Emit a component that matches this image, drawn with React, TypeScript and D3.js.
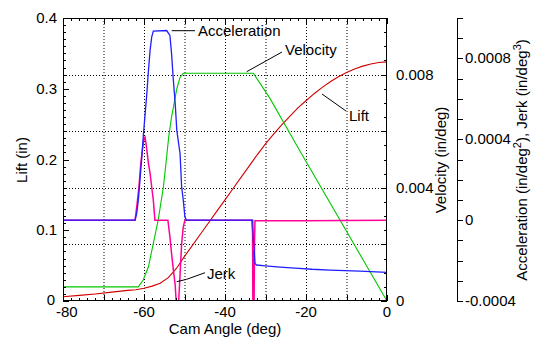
import React from "react";
import * as d3 from "d3";

// ---- data ----
const liftDeg = [-80, -76, -72, -68, -64, -62, -60, -58, -56, -54, -52, -50, -48, -46, -44, -42, -40, -38, -36, -34, -32, -30, -28, -26, -24, -22, -20, -18, -16, -14, -12, -10, -8, -6, -4, -2, 0];
const liftVal = [0.006, 0.008, 0.010, 0.0125, 0.015, 0.016, 0.018, 0.021, 0.025, 0.033, 0.046, 0.063, 0.079, 0.095, 0.111, 0.127, 0.143, 0.159, 0.175, 0.191, 0.207, 0.222, 0.236, 0.249, 0.261, 0.273, 0.283, 0.293, 0.302, 0.310, 0.317, 0.323, 0.328, 0.332, 0.335, 0.337, 0.338];

const velDeg = [-80, -61.4, -60.2, -58.9, -57.7, -56.5, -55.2, -54.4, -53.9, -53.2, -52.8, -51.9, -51.1, -50.3, -33, -28.9, -21.5, 0];
const velVal = [0.0005, 0.0005, 0.00074, 0.00121, 0.00204, 0.00286, 0.00404, 0.0051, 0.0058, 0.0065, 0.0068, 0.0075, 0.0079, 0.00805, 0.00805, 0.00716, 0.0053, 0];

const accDeg = [-80, -62.2, -61.8, -61.4, -61.0, -60.6, -60.2, -59.3, -58.9, -58.5, -58.1, -57.7, -54.4, -53.6, -53.2, -52.8, -52.3, -51.9, -51.1, -50.7, -50.3, -49.9, -49.5, -33.16, -33.0, -32.8, -32.6, -32.2, -30.1, -26.4, -22.7, -18.5, -14.1, -6.7, 0];
const accVal = [0, 0, 0.000033, 0.0000988, 0.000198, 0.000296, 0.00041, 0.000626, 0.00074, 0.00084, 0.000905, 0.000935, 0.000938, 0.000914, 0.000825, 0.000706, 0.000578, 0.000444, 0.00033, 0.000163, 0.0000988, 0.000015, 0, 0, -0.0000988, -0.000148, -0.000214, -0.000222, -0.000226, -0.000232, -0.000237, -0.000243, -0.000247, -0.000252, -0.000258];

const jerkDeg = [-80, -62.2, -61.7, -61.25, -60.8, -60.4, -60.0, -59.75, -59.5, -59.2, -58.9, -58.5, -58.1, -57.7, -57.3, -54.1, -53.6, -53.2, -52.8, -52.3, -52.0, -51.5, -51.2, -51.0, -50.7, -50.3, -49.9, -33.4, -33.2, -33.1, -32.95, -32.85, -32.7, -32.6, -20.7, 0];
const jerkVal = [0, 0, 0.000082, 0.000164, 0.00028, 0.000346, 0.000405, 0.000411, 0.00038, 0.00033, 0.00028, 0.000232, 0.000164, 0.0000988, 0, 0, -0.0000825, -0.000164, -0.000237, -0.00032, -0.00042, -0.00042, -0.000311, -0.00023, -0.000115, -0.000033, 0, 0, -0.00006, -0.0005, -0.00015, -0.0005, -0.0001, -0.000003, -0.000003, 0];

const xTickLabels = [-80, -60, -40, -20, 0];
const liftTickLabels = [0, 0.1, 0.2, 0.3, 0.4];
const velTickLabels = [0, 0.004, 0.008];
const accTickLabels = [-0.0004, 0, 0.0004, 0.0008];
const velGrid = [0.002, 0.004, 0.006, 0.008];
const xGrid = [-70, -60, -50, -40, -30, -20, -10];

const annotations = [
  { text: "Acceleration", line: [[171.7, 30.7], [195, 30.7]], tx: 198, ty: 36 },
  { text: "Velocity", line: [[246.7, 71.7], [282, 52]], tx: 285, ty: 55 },
  { text: "Lift", line: [[322, 94], [346, 111]], tx: 349, ty: 121 },
  { text: "Jerk", line: [[176.7, 281.7], [186.7, 279.3], [205, 272.7]], tx: 207, ty: 279 },
];

const FONT = "'Liberation Sans', Arial, sans-serif";

export default function App() {
  const L = 63, R = 387, T = 18, B = 301;
  const x = d3.scaleLinear().domain([-80, 0]).range([L, R]);
  const yLift = d3.scaleLinear().domain([0, 0.4]).range([B, T]);
  const yVel = d3.scaleLinear().domain([0, 0.01]).range([B, T]);
  const yAcc = d3.scaleLinear().domain([-0.0004, 0.001]).range([B, T]);
  const AX = 457;

  const mk = (xs: number[], ys: number[], ys2: (v: number) => number) =>
    d3.line<number>().x((_, i) => x(xs[i])).y((v) => ys2(v))(ys) || "";

  const xTicks = d3.range(-80, 0.001, 2);
  const liftTicks = d3.range(0, 0.4001, 0.01);
  const velTicks = d3.range(0, 0.01001, 0.0005);
  const accTicks = d3.range(-0.0004, 0.00100001, 0.0001);

  const fmtAcc = (v: number) => (Math.abs(v) < 1e-12 ? "0" : v.toFixed(4));

  return (
    <svg width={539} height={340} style={{ position: "absolute", left: 0, top: 0, background: "#fff" }} fontFamily={FONT}>
      <defs>
        <clipPath id="plot">
          <rect x={L} y={T} width={R - L} height={B - T} />
        </clipPath>
      </defs>
      {/* grid */}
      {xGrid.map((d) => (
        <line key={"gx" + d} x1={x(d) + 0.5} x2={x(d) + 0.5} y1={T} y2={B} stroke="#000" strokeDasharray="1,2" />
      ))}
      {velGrid.map((d) => (
        <line key={"gy" + d} x1={L} x2={R} y1={Math.round(yVel(d)) + 0.5} y2={Math.round(yVel(d)) + 0.5} stroke="#000" strokeDasharray="1,2" />
      ))}
      {/* curves */}
      <g clipPath="url(#plot)" fill="none">
        <path d={mk(liftDeg, liftVal, yLift)} stroke="#d00000" strokeWidth={1.1} />
        <path d={mk(velDeg, velVal, yVel)} stroke="#00c800" strokeWidth={1.1} />
        <path d={mk(jerkDeg, jerkVal, yAcc)} stroke="#ff0099" strokeWidth={1.5} />
        <path d={mk(accDeg, accVal, yAcc)} stroke="#1f1fff" strokeWidth={1.3} />
      </g>
      {/* frame */}
      <rect x={L + 0.5} y={T + 0.5} width={R - L - 1} height={B - T - 1} fill="none" stroke="#000" />
      {/* x ticks bottom & top */}
      {xTicks.map((d) => {
        const major = Math.abs(d % 10) < 1e-6;
        const xx = Math.round(x(d)) + 0.5;
        return (
          <g key={"xt" + d}>
            <line x1={xx} x2={xx} y1={B} y2={B - (major ? 6 : 3)} stroke="#000" />
            <line x1={xx} x2={xx} y1={T} y2={T + (major ? 6 : 3)} stroke="#000" />
          </g>
        );
      })}
      {/* lift ticks */}
      {liftTicks.map((d, i) => {
        const major = i % 10 === 0;
        const yy = Math.round(yLift(d)) + 0.5;
        return <line key={"lt" + i} x1={L} x2={L + (major ? 6 : 3)} y1={yy} y2={yy} stroke="#000" />;
      })}
      {/* velocity ticks on right border */}
      {velTicks.map((d, i) => {
        const major = i % 4 === 0;
        const yy = Math.round(yVel(d)) + 0.5;
        return <line key={"vt" + i} x1={R} x2={R - (major ? 6 : 3)} y1={yy} y2={yy} stroke="#000" />;
      })}
      {/* acceleration axis */}
      <line x1={AX + 0.5} x2={AX + 0.5} y1={T} y2={B + 1} stroke="#000" />
      {accTicks.map((d, i) => {
        const yy = Math.round(yAcc(d)) + 0.5;
        return <line key={"at" + i} x1={AX} x2={AX + 6} y1={yy} y2={yy} stroke="#000" />;
      })}
      {/* tick labels */}
      <g fontSize={15} fill="#000">
        {xTickLabels.map((d) =>
          d === -80 ? (
            <text key={"xl" + d} x={56} y={317} textAnchor="start">{d}</text>
          ) : (
            <text key={"xl" + d} x={x(d)} y={317} textAnchor="middle">{d}</text>
          )
        )}
        {liftTickLabels.map((d) => (
          <text key={"ll" + d} x={d === 0 ? 55 : 57} y={yLift(d) + (d === 0 ? 4 : 5)} textAnchor="end">{d}</text>
        ))}
        {velTickLabels.map((d) => (
          <text key={"vl" + d} x={396} y={yVel(d) + 5} textAnchor="start">{d}</text>
        ))}
        {accTickLabels.map((d) => (
          <text key={"al" + d} x={465} y={yAcc(d) + 5} textAnchor="start">{fmtAcc(d)}</text>
        ))}
        <text x={225} y={334} textAnchor="middle">Cam Angle (deg)</text>
        <text transform="translate(27,160) rotate(-90)" textAnchor="middle">Lift (in)</text>
        <text transform="translate(446,160) rotate(-90)" textAnchor="middle">Velocity (in/deg)</text>
        <text transform="translate(527,160) rotate(-90)" textAnchor="middle">
          Acceleration (in/deg<tspan dy={-6} fontSize={11}>2</tspan><tspan dy={6}>), Jerk (in/deg</tspan><tspan dy={-6} fontSize={11}>3</tspan><tspan dy={6}>)</tspan>
        </text>
      </g>
      {/* annotations */}
      <g fontSize={15}>
        {annotations.map((a) => (
          <g key={a.text}>
            <polyline points={a.line.map((p) => p.join(",")).join(" ")} fill="none" stroke="#000" />
            <text x={a.tx} y={a.ty}>{a.text}</text>
          </g>
        ))}
      </g>
    </svg>
  );
}
